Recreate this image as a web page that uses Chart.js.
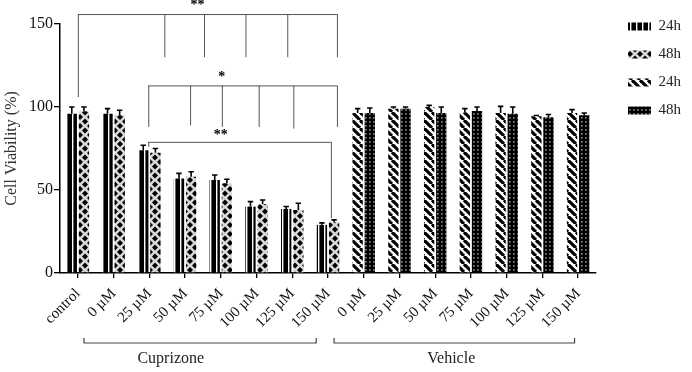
<!DOCTYPE html>
<html>
<head>
<meta charset="utf-8">
<script src="https://cdn.jsdelivr.net/npm/chart.js@4.4.1/dist/chart.umd.min.js"></script>
<style>
  html, body { margin: 0; padding: 0; background: #fff; }
  #wrap { width: 692px; height: 372px; }
</style>
</head>
<body>
<div id="wrap"><canvas id="chart" width="692" height="372"></canvas></div>
<script>
// categories along the x axis
const categories = ['control', '0 µM', '25 µM', '50 µM', '75 µM', '100 µM', '125 µM', '150 µM',
                    '0 µM', '25 µM', '50 µM', '75 µM', '100 µM', '125 µM', '150 µM'];

// cuprizone (control + 0..150 µM)
const cup24 = [96, 96, 74, 57, 56, 40, 38.6, 29];
const cup24Err = [4, 3, 3, 3, 3, 3, 1.5, 1.2];
const cup48 = [97.5, 95, 72.5, 58, 54, 41.5, 38, 30.5];
const cup48Err = [2.5, 3, 2.5, 3, 2.5, 2.5, 4, 1.5];

// vehicle (0..150 µM)
const veh24 = [96.4, 99, 100, 96.8, 96.4, 94.4, 96.4];
const veh24Err = [2.6, 1, 1, 2.2, 4, 0.5, 2];
const veh48 = [96.4, 99, 96.4, 97.6, 96, 93.8, 95];
const veh48Err = [3, 1, 3.6, 2.4, 4, 1.7, 1.4];

const yTicks = [0, 50, 100, 150];

// significance brackets, in category index / value units
const sigBrackets = [
  { label: '**', y: 156, text: [3.35, 161], drops: [[0, 106], [2.42, 130], [3.53, 130], [4.69, 130], [5.86, 130], [7.25, 130]] },
  { label: '*', y: 113, text: [4.03, 118], drops: [[1.97, 88], [3.14, 89], [4.03, 88], [5.06, 88], [6.03, 87], [7.25, 88]] },
  { label: '**', y: 79, text: [4.0, 83], drops: [[1.97, 76], [7.08, 33]] }
];

const groups = [
  { label: 'Cuprizone', from: 0.17, to: 6.67, text: 2.6 },
  { label: 'Vehicle', from: 7.17, to: 13.9, text: 10.45 }
];

const pad = (arr, before, after) => [...Array(before).fill(null), ...arr, ...Array(after).fill(null)];

function tile(w, h, paint) {
  const c = document.createElement('canvas');
  c.width = w; c.height = h;
  const g = c.getContext('2d');
  paint(g, w, h);
  return g.createPattern(c, 'repeat');
}

const ctx = document.getElementById('chart').getContext('2d');

const vStripes = tile(6, 6, (g, w, h) => {
  g.fillStyle = '#000'; g.fillRect(0, 0, w, h);
  g.fillStyle = '#fff'; g.fillRect(0, 0, 1.4, h);
});

const diamonds = tile(10, 9, (g, w, h) => {
  g.fillStyle = '#d9d9d9'; g.fillRect(0, 0, w, h);
  g.fillStyle = '#000';
  const d = (cx, cy) => {
    g.beginPath();
    g.moveTo(cx, cy - 3); g.lineTo(cx + 3, cy); g.lineTo(cx, cy + 3); g.lineTo(cx - 3, cy);
    g.closePath(); g.fill();
  };
  d(5, 4.5); d(0, 0); d(10, 0); d(0, 9); d(10, 9);
});

const diagStripes = tile(8, 8, (g, w, h) => {
  g.fillStyle = '#fff'; g.fillRect(0, 0, w, h);
  g.strokeStyle = '#000'; g.lineWidth = 3.2;
  [-8, 0, 8].forEach(o => {
    g.beginPath(); g.moveTo(o, 0); g.lineTo(o + 8, 8); g.stroke();
  });
});

const dots = tile(4, 4, (g, w, h) => {
  g.fillStyle = '#000'; g.fillRect(0, 0, w, h);
  g.fillStyle = '#fff'; g.fillRect(1.3, 1.3, 1.2, 1.2);
});

const errorBars = {
  id: 'errorBars',
  afterDatasetsDraw(chart) {
    const c = chart.ctx, y = chart.scales.y;
    c.save();
    c.strokeStyle = '#000';
    c.lineWidth = 1.6;
    chart.data.datasets.forEach((ds, i) => {
      chart.getDatasetMeta(i).data.forEach((bar, j) => {
        const v = ds.data[j];
        if (v == null) return;
        const top = y.getPixelForValue(v + ds.errors[j]);
        c.beginPath();
        c.moveTo(bar.x, bar.y);
        c.lineTo(bar.x, top);
        c.moveTo(bar.x - 2.7, top);
        c.lineTo(bar.x + 2.7, top);
        c.stroke();
      });
    });
    c.restore();
  }
};

const annotations = {
  id: 'annotations',
  afterDraw(chart) {
    const c = chart.ctx, x = chart.scales.x, y = chart.scales.y;
    c.save();
    c.strokeStyle = '#555';
    c.lineWidth = 1;
    c.fillStyle = '#000';
    c.textAlign = 'center';
    c.textBaseline = 'middle';
    sigBrackets.forEach(b => {
      const by = y.getPixelForValue(b.y);
      const xs = b.drops.map(d => x.getPixelForValue(d[0]));
      c.beginPath();
      c.moveTo(Math.min(...xs), by + 0.5);
      c.lineTo(Math.max(...xs), by + 0.5);
      b.drops.forEach((d, k) => {
        c.moveTo(xs[k] + 0.5, by);
        c.lineTo(xs[k] + 0.5, y.getPixelForValue(d[1]));
      });
      c.stroke();
      c.font = 'bold 14px "Liberation Serif"';
      c.fillText(b.label, x.getPixelForValue(b.text[0]), y.getPixelForValue(b.text[1]));
    });

    const gy = chart.chartArea.bottom + 70;
    c.strokeStyle = '#444';
    c.lineWidth = 1.2;
    c.font = '16px "Liberation Serif"';
    c.fillStyle = '#222';
    groups.forEach(g => {
      const x0 = x.getPixelForValue(g.from), x1 = x.getPixelForValue(g.to);
      c.beginPath();
      c.moveTo(x0, gy - 5); c.lineTo(x0, gy); c.lineTo(x1, gy); c.lineTo(x1, gy - 5);
      c.stroke();
      c.fillText(g.label, x.getPixelForValue(g.text), gy + 16);
    });
    c.restore();
  }
};

// nudge the built-in legend to where the figure has it
const legendShift = {
  id: 'legendShift',
  afterLayout(chart) {
    const l = chart.legend;
    l.left += 19; l.right += 19;
    l.top -= 18; l.bottom -= 18;
  }
};

new Chart(ctx, {
  type: 'bar',
  data: {
    labels: categories,
    datasets: [
      { label: '24h', data: pad(cup24, 0, 7), errors: pad(cup24Err, 0, 7), backgroundColor: vStripes },
      { label: '48h', data: pad(cup48, 0, 7), errors: pad(cup48Err, 0, 7), backgroundColor: diamonds },
      { label: '24h', data: pad(veh24, 8, 0), errors: pad(veh24Err, 8, 0), backgroundColor: diagStripes },
      { label: '48h', data: pad(veh48, 8, 0), errors: pad(veh48Err, 8, 0), backgroundColor: dots }
    ]
  },
  options: {
    responsive: false,
    animation: false,
    devicePixelRatio: 1,
    skipNull: true,
    categoryPercentage: 0.68,
    barPercentage: 0.85,
    layout: { padding: { top: 24, left: 0, right: 20, bottom: 0 } },
    scales: {
      x: {
        grid: { display: true, drawOnChartArea: false, offset: false, tickLength: 5, color: '#000', lineWidth: 1.3 },
        border: { color: '#000', width: 1.5 },
        ticks: {
          color: '#111', maxRotation: 45, minRotation: 45, autoSkip: false, padding: 7,
          font: { family: '"Liberation Serif"', size: 15 }
        },
        afterFit(s) { s.height = 99; }
      },
      y: {
        min: 0, max: 150,
        afterBuildTicks(s) { s.ticks = yTicks.map(v => ({ value: v })); },
        grid: { display: true, drawOnChartArea: false, tickLength: 6, color: '#000', lineWidth: 1.3 },
        border: { color: '#000', width: 1.5 },
        ticks: { color: '#111', padding: 1, font: { family: '"Liberation Serif"', size: 16 } },
        title: {
          display: true, text: 'Cell Viability (%)', color: '#333', padding: { top: 2, bottom: 0 },
          font: { family: '"Liberation Serif"', size: 16 }
        },
        afterFit(s) { s.width = 60; }
      }
    },
    plugins: {
      legend: {
        position: 'right',
        align: 'start',
        labels: {
          boxWidth: 23, boxHeight: 8, padding: 13, color: '#222',
          font: { family: '"Liberation Serif"', size: 15 }
        }
      },
      tooltip: { enabled: false }
    }
  },
  plugins: [errorBars, annotations, legendShift]
});
</script>
</body>
</html>
